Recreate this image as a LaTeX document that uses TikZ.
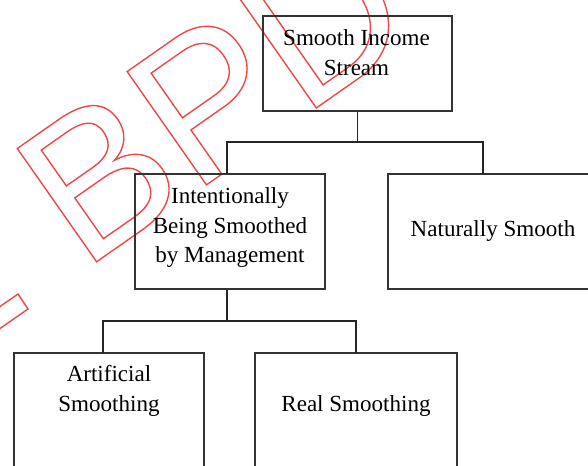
\documentclass[tikz,border=0pt]{standalone}
\usepackage{fontspec}
\setmainfont{Liberation Serif}
\newfontfamily\markfont{Liberation Sans}
\definecolor{markred}{RGB}{240,72,72}
\tikzset{
  blk/.style={draw=black!80, line width=1.2pt, inner sep=0pt},
  lbl/.style={align=center, inner sep=0pt, font=\fontsize{16.4}{21.3}\selectfont},
  wire/.style={draw=black!85, line width=1.1pt},
  markline/.style={draw=markred, line width=1pt},
}

\begin{document}
\begin{tikzpicture}[scale=0.25]
    \useasboundingbox (0,0) rectangle (58.8,-46.5);
    \clip (0,0) rectangle (58.8,-46.5);
    % watermark
    \node [anchor=base west, rotate=35, inner sep=0pt, text=markred,
           font=\markfont\fontsize{143}{143}\selectfont] (mark) at (8.29,-27.14)
          {\special{pdf:literal direct 1 Tr 1 w}BPD\special{pdf:literal direct 0 Tr}};
    \draw [markline] (1.8,-29.4) -- (-2.3,-32.25) -- (-1.3,-33.75) -- (2.8,-30.9) -- cycle;
    % boxes
    \node [blk, minimum width=4.725cm, minimum height=2.375cm] (top) at (35.75,-6.35) {};
    \node [blk, minimum width=4.75cm, minimum height=2.875cm] (intent) at (23.0,-23.15) {};
    \node [blk, minimum width=5.25cm, minimum height=2.875cm] (nat) at (49.3,-23.15) {};
    \node [blk, minimum width=4.75cm, minimum height=2.875cm] (art) at (10.9,-41.05) {};
    \node [blk, minimum width=5.05cm, minimum height=2.875cm] (real) at (35.6,-41.05) {};
    % labels
    \node [lbl] (topT) at (35.65,-5.3) {Smooth Income\\Stream};
    \node [lbl] (intentT) at (23.0,-22.75) {Intentionally\\Being Smoothed\\by Management};
    \node [lbl] (natT) at (49.3,-23.1) {Naturally Smooth};
    \node [lbl] (artT) at (10.9,-39.05) {Artificial\\Smoothing};
    \node [lbl] (realT) at (35.6,-40.6) {Real Smoothing};
    % connectors
    \coordinate (hubA) at (35.75,-14.2);
    \coordinate (dropI) at (22.7,-17.4);
    \coordinate (dropN) at (48.3,-17.4);
    \draw [wire] (top.south) -- (hubA);
    \draw [wire] (dropI) |- (hubA) -| (dropN);
    \coordinate (hubB) at (22.7,-32.1);
    \coordinate (dropA) at (10.3,-35.3);
    \coordinate (dropR) at (35.6,-35.3);
    \draw [wire] (hubB |- intent.south) -- (hubB);
    \draw [wire] (dropA) |- (hubB) -| (dropR);
\end{tikzpicture}
\end{document}
